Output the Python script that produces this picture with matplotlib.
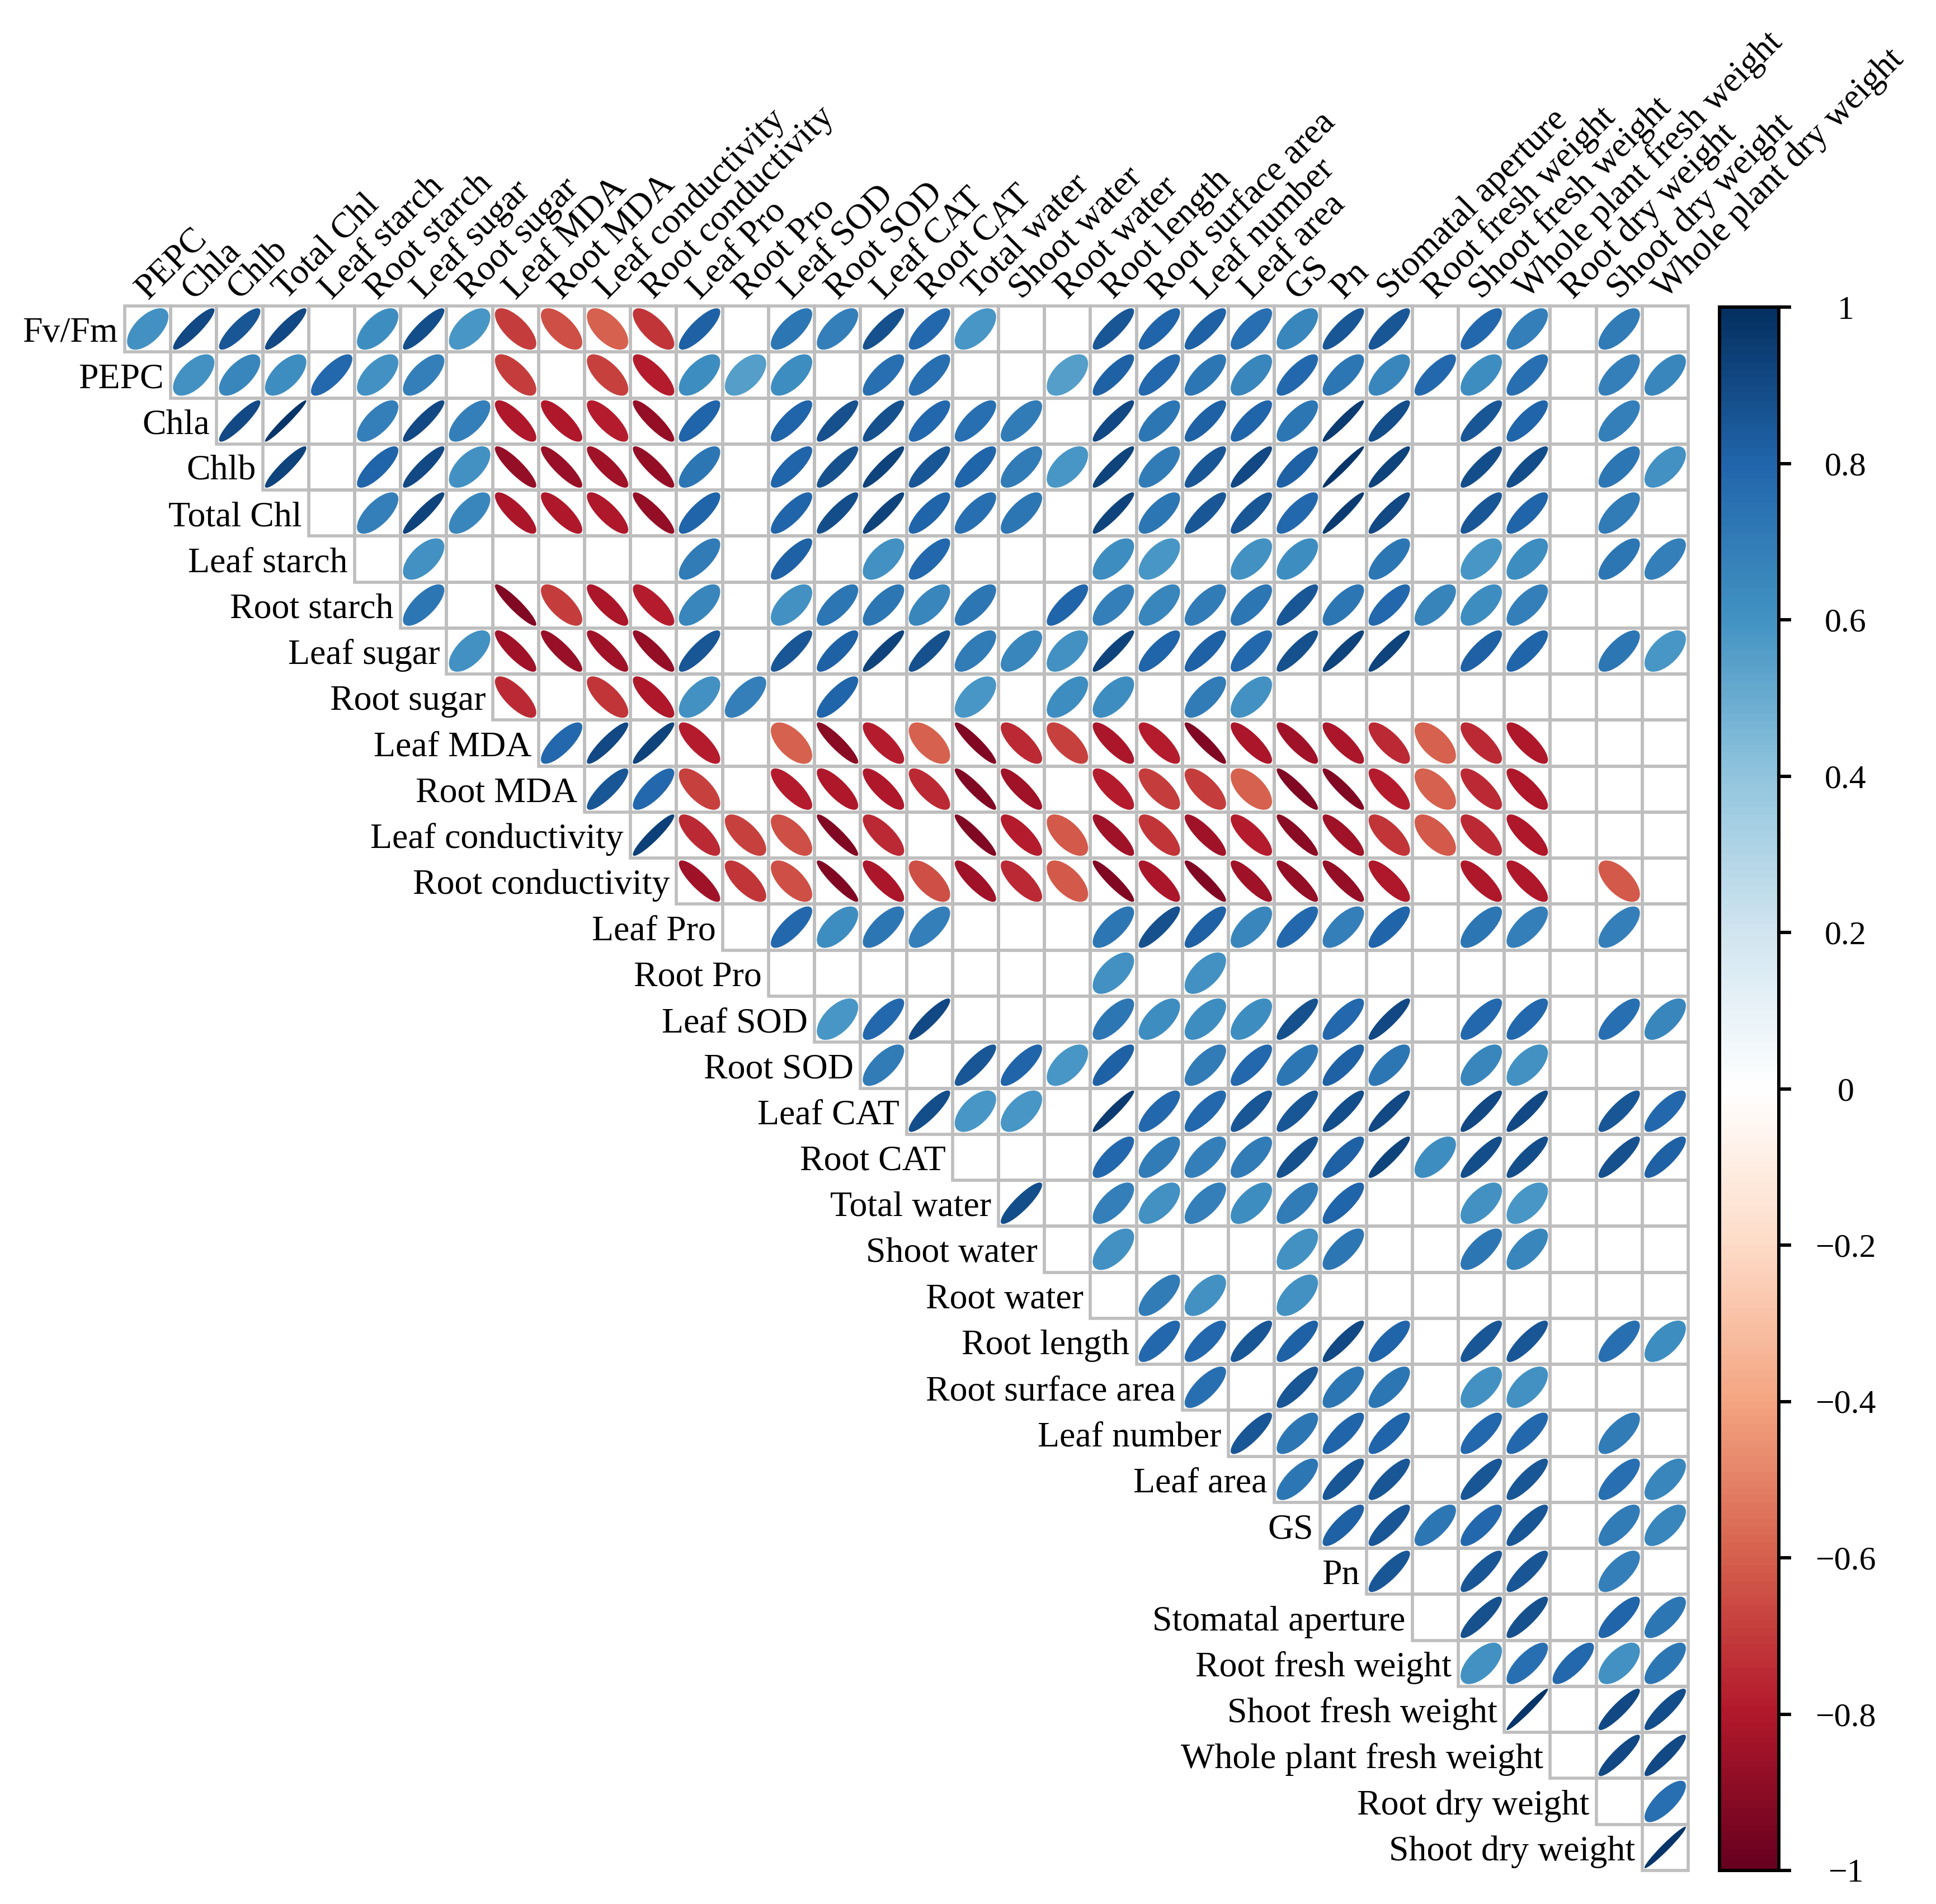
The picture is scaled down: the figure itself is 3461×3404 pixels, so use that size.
import numpy as np
import matplotlib
matplotlib.use('Agg')
import matplotlib.pyplot as plt
from matplotlib.patches import Ellipse, Rectangle
from matplotlib.colors import LinearSegmentedColormap, Normalize
import matplotlib.cm as cm

plt.rcParams['font.family'] = ['Liberation Serif', 'DejaVu Serif']

variables = ["Fv/Fm", "PEPC", "Chla", "Chlb", "Total Chl", "Leaf starch", "Root starch",
             "Leaf sugar", "Root sugar", "Leaf MDA", "Root MDA", "Leaf conductivity",
             "Root conductivity", "Leaf Pro", "Root Pro", "Leaf SOD", "Root SOD", "Leaf CAT",
             "Root CAT", "Total water", "Shoot water", "Root water", "Root length",
             "Root surface area", "Leaf number", "Leaf area", "GS", "Pn", "Stomatal aperture",
             "Root fresh weight", "Shoot fresh weight", "Whole plant fresh weight",
             "Root dry weight", "Shoot dry weight", "Whole plant dry weight"]
row_labels = variables[:-1]
col_labels = variables[1:]

N = None
# significant correlations of each row variable with the later variables (blank = None)
r_fvfm = [0.6, 0.9, 0.85, 0.9, N, 0.62, 0.88, 0.58, -0.7, -0.65, -0.6, -0.72, 0.82, N, 0.72, 0.68,
          0.87, 0.78, 0.58, N, N, 0.85, 0.8, 0.82, 0.75, 0.65, 0.85, 0.85, N, 0.78, 0.68, N, 0.7, N]
r_pepc = [0.6, 0.65, 0.62, 0.78, 0.6, 0.68, N, -0.7, N, -0.68, -0.78, 0.62, 0.55, 0.62, N, 0.75,
          0.75, N, N, 0.55, 0.82, 0.78, 0.72, 0.65, 0.78, 0.72, 0.65, 0.78, 0.62, 0.75, N, 0.68, 0.65]
r_chla = [0.9, 0.97, N, 0.68, 0.9, 0.68, -0.8, -0.8, -0.78, -0.88, 0.8, N, 0.8, 0.87, 0.87, 0.78,
          0.75, 0.7, N, 0.9, 0.72, 0.82, 0.8, 0.72, 0.95, 0.88, N, 0.85, 0.8, N, 0.68, N]
r_chlb = [0.92, N, 0.8, 0.9, 0.6, -0.88, -0.87, -0.85, -0.88, 0.72, N, 0.8, 0.87, 0.92, 0.85, 0.8,
          0.7, 0.58, 0.92, 0.7, 0.85, 0.9, 0.82, 0.97, 0.92, N, 0.88, 0.88, N, 0.72, 0.6]
r_totchl = [N, 0.68, 0.92, 0.65, -0.82, -0.8, -0.8, -0.88, 0.8, N, 0.8, 0.88, 0.92, 0.8, 0.75,
            0.72, N, 0.92, 0.72, 0.85, 0.85, 0.78, 0.95, 0.9, N, 0.85, 0.8, N, 0.7, N]
r_lstarch = [N, 0.6, N, N, N, N, N, 0.7, N, 0.82, N, 0.6, 0.78, N, N, N, 0.62, 0.58, N, 0.6,
             0.62, N, 0.72, N, 0.58, 0.62, N, 0.72, 0.68]
r_rstarch = [0.72, N, -0.92, -0.7, -0.82, -0.78, 0.65, N, 0.6, 0.72, 0.72, 0.65, 0.72, N, 0.8,
             0.68, 0.65, 0.7, 0.72, 0.85, 0.72, 0.78, 0.66, 0.62, 0.68, N, N, N]
r_lsugar = [0.6, -0.85, -0.87, -0.85, -0.88, 0.85, N, 0.85, 0.82, 0.92, 0.87, 0.7, 0.65, 0.6,
            0.92, 0.8, 0.82, 0.78, 0.87, 0.92, 0.92, N, 0.82, 0.8, N, 0.72, 0.58]
r_rsugar = [-0.75, N, -0.72, -0.8, 0.6, 0.68, N, 0.8, N, N, 0.58, N, 0.62, 0.62, N, 0.7, 0.6,
            N, N, N, N, N, N, N, N, N]
r_lmda = [0.78, 0.9, 0.92, -0.78, N, -0.6, -0.9, -0.78, -0.6, -0.92, -0.75, -0.68, -0.82, -0.78,
          -0.92, -0.82, -0.85, -0.82, -0.75, -0.6, -0.75, -0.8, N, N, N]
r_rmda = [0.85, 0.78, -0.68, N, -0.78, -0.8, -0.8, -0.75, -0.92, -0.85, N, -0.78, -0.7, -0.7,
          -0.6, -0.92, -0.92, -0.78, -0.6, -0.75, -0.8, N, N, N]
r_lcond = [0.93, -0.75, -0.68, -0.65, -0.92, -0.75, N, -0.92, -0.78, -0.62, -0.85, -0.72, -0.85,
           -0.78, -0.9, -0.85, -0.72, -0.62, -0.75, -0.8, N, N, N]
r_rcond = [-0.85, -0.72, -0.65, -0.92, -0.82, -0.65, -0.85, -0.75, -0.62, -0.92, -0.82, -0.92,
           -0.85, -0.88, -0.88, -0.8, N, -0.8, -0.8, N, -0.62, N]
r_lpro = [N, 0.78, 0.62, 0.72, 0.68, N, N, N, 0.72, 0.87, 0.82, 0.65, 0.78, 0.68, 0.8, N, 0.72,
          0.68, N, 0.68, N]
r_rpro = [N, N, N, N, N, N, N, 0.6, N, 0.6, N, N, N, N, N, N, N, N, N, N]
r_lsod = [0.58, 0.78, 0.9, N, N, N, 0.72, 0.62, 0.62, 0.62, 0.87, 0.78, 0.9, N, 0.78, 0.78, N,
          0.75, 0.65]
r_rsod = [0.7, N, 0.85, 0.8, 0.58, 0.82, N, 0.7, 0.78, 0.72, 0.82, 0.72, N, 0.65, 0.6, N, N, N]
r_lcat = [0.88, 0.58, 0.58, N, 0.95, 0.78, 0.78, 0.85, 0.85, 0.88, 0.9, N, 0.9, 0.9, N, 0.85, 0.78]
r_rcat = [N, N, N, 0.78, 0.7, 0.68, 0.7, 0.87, 0.82, 0.92, 0.62, 0.88, 0.88, N, 0.87, 0.82]
r_twater = [0.88, N, 0.68, 0.6, 0.68, 0.62, 0.7, 0.8, N, N, 0.6, 0.58, N, N, N]
r_swater = [N, 0.6, N, N, N, 0.6, 0.72, N, N, 0.72, 0.65, N, N, N]
r_rwater = [N, 0.7, 0.6, N, 0.6, N, N, N, N, N, N, N, N]
r_rlength = [0.78, 0.78, 0.85, 0.82, 0.9, 0.8, N, 0.85, 0.85, N, 0.75, 0.62]
r_rsa = [0.75, N, 0.85, 0.72, 0.72, N, 0.6, 0.6, N, N, N]
r_lnum = [0.85, 0.72, 0.8, 0.8, N, 0.78, 0.78, N, 0.7, N]
r_larea = [0.72, 0.85, 0.85, N, 0.85, 0.85, N, 0.75, 0.65]
r_gs = [0.82, 0.85, 0.72, 0.78, 0.85, N, 0.7, 0.65]
r_pn = [0.85, N, 0.85, 0.85, N, 0.68, N]
r_stom = [N, 0.87, 0.87, N, 0.8, 0.72]
r_rfw = [0.6, 0.75, 0.78, 0.6, 0.72]
r_sfw = [0.97, N, 0.9, 0.88]
r_wfw = [N, 0.9, 0.9]
r_rdw = [N, 0.75]
r_sdw = [0.97]

corr_rows = [r_fvfm, r_pepc, r_chla, r_chlb, r_totchl, r_lstarch, r_rstarch, r_lsugar, r_rsugar,
             r_lmda, r_rmda, r_lcond, r_rcond, r_lpro, r_rpro, r_lsod, r_rsod, r_lcat, r_rcat,
             r_twater, r_swater, r_rwater, r_rlength, r_rsa, r_lnum, r_larea, r_gs, r_pn, r_stom,
             r_rfw, r_sfw, r_wfw, r_rdw, r_sdw]

cbar_ticks = [1, 0.8, 0.6, 0.4, 0.2, 0, -0.2, -0.4, -0.6, -0.8, -1]
cbar_labels = ["1", "0.8", "0.6", "0.4", "0.2", "0", "\u22120.2", "\u22120.4", "\u22120.6",
               "\u22120.8", "\u22121"]

W, H = 3461, 3404
fig = plt.figure(figsize=(W / 100, H / 100), dpi=100)
gl, gr, gt, gb = 223, 3018, 547, 3344
ax = fig.add_axes([gl / W, 1 - gb / H, (gr - gl) / W, (gb - gt) / H])
n = len(row_labels)
ax.set_xlim(0, n)
ax.set_ylim(n, 0)
ax.axis('off')

cmap = LinearSegmentedColormap.from_list(
    'corrRdBu', ["#67001F", "#B2182B", "#D6604D", "#F4A582", "#FDDBC7", "#FFFFFF",
                 "#D1E5F0", "#92C5DE", "#4393C3", "#2166AC", "#053061"], N=200)
norm = Normalize(-1, 1)

grid_col = '#BEBEBE'
a = 0.45
for i, row in enumerate(corr_rows):
    for k, r in enumerate(row):
        j = i + k
        ax.add_patch(Rectangle((j, i), 1, 1, fill=False, edgecolor=grid_col, lw=4,
                               zorder=1, clip_on=False))
        if r is None:
            continue
        d = np.arccos(r)
        w = 2 * a * np.sqrt(2) * np.cos(d / 2)
        h = 2 * a * np.sqrt(2) * np.sin(d / 2)
        ax.add_patch(Ellipse((j + 0.5, i + 0.5), w, h, angle=-45,
                             facecolor=cmap(norm(r)), edgecolor='none', zorder=2))

fs = 46
for i, lab in enumerate(row_labels):
    ax.text(i - 0.15, i + 0.78, lab, ha='right', va='baseline', fontsize=fs, clip_on=False)
for j, lab in enumerate(col_labels):
    ax.text(j + 0.5, -0.13, lab, ha='left', va='baseline', rotation=45,
            rotation_mode='anchor', fontsize=fs, clip_on=False)

cax = fig.add_axes([3074 / W, 1 - 3344 / H, (3180 - 3074) / W, (3344 - 549) / H])
sm = cm.ScalarMappable(norm=norm, cmap=cmap)
cb = fig.colorbar(sm, cax=cax, ticks=cbar_ticks)
cb.set_ticklabels(cbar_labels)
cb.outline.set_linewidth(4.3)
cb.outline.set_edgecolor('black')
cax.tick_params(axis='y', length=16, width=4.3, labelsize=43, pad=70, direction='out')
for t in cax.get_yticklabels():
    t.set_horizontalalignment('center')

fig.savefig('out.png', dpi=100)
